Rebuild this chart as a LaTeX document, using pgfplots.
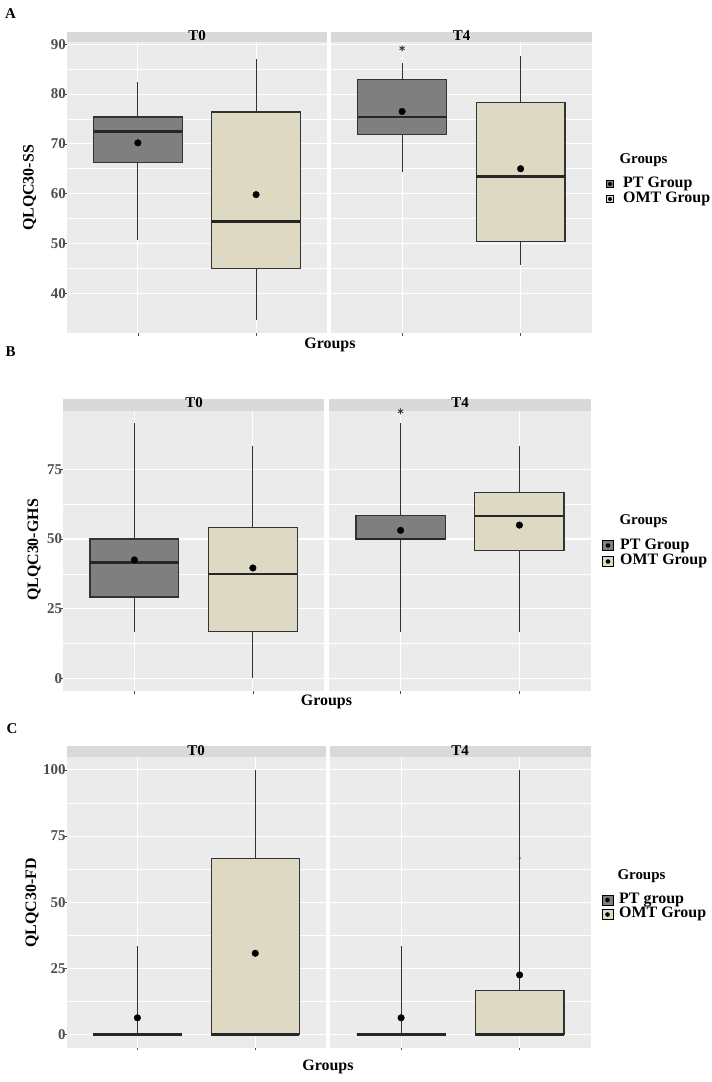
\documentclass[border=0pt]{standalone}
\usepackage{fontspec}
\setmainfont{Liberation Serif}
\usepackage{pgfplots}
\pgfplotsset{compat=1.18}
\usepgfplotslibrary{statistics}
\definecolor{panel}{HTML}{EBEBEB}
\definecolor{stripc}{HTML}{D9D9D9}
\definecolor{ptfill}{HTML}{7F7F7F}
\definecolor{omtfill}{HTML}{DDD9C3}
\definecolor{boxline}{HTML}{333333}
\definecolor{ticktext}{HTML}{4D4D4D}
\newcommand{\tf}{\fontsize{15}{15}\selectfont\bfseries}
\newcommand{\lf}{\fontsize{16}{16}\selectfont\bfseries}
\pgfplotsset{
 facet/.style={
  scale only axis, anchor=south west,
  xmin=0.4, xmax=2.6,
  axis background/.style={fill=panel},
  axis line style={draw=none},
  xtick={1,2}, xticklabels={},
  xmajorgrids, ymajorgrids, yminorgrids,
  minor y tick num=1,
  major grid style={white, line width=1.1bp},
  minor grid style={white, line width=0.6bp},
  tick align=outside, major tick length=2.5bp, minor tick length=0pt,
  tick pos=left,
  tick style={ticktext, line width=0.5bp},
  /pgf/number format/assume math mode=true,
  yticklabel style={font=\tf, text=ticktext, inner sep=0.5bp, xshift=2bp},
  clip=false,
  boxplot/draw direction=y,
  boxplot/every median/.style={line width=2.6bp, draw=black!85},
  boxplot/whisker extend=0,
  boxplot/box extend=0.75,
 },
 rightfacet/.style={facet, yticklabels={}, major y tick style={draw=none}, ytick style={draw=none}},
 pt/.style={draw=boxline, fill=ptfill, line width=1.1bp},
 omt/.style={draw=boxline, fill=omtfill, line width=1.1bp},
 meanpt/.style={only marks, mark=*, mark size=3.3bp, black},
 star/.style={only marks, mark=asterisk, mark size=3bp, black!80, line width=0.8bp},
}
\begin{document}
\begin{tikzpicture}
\useasboundingbox (0,0) rectangle (712bp,-1082bp);
% ---------- strips ----------
\fill[stripc] (67bp,-32bp) rectangle (327bp,-42.3bp);
\fill[stripc] (331bp,-32bp) rectangle (591.7bp,-42.3bp);
\fill[stripc] (63.3bp,-399bp) rectangle (324bp,-410.7bp);
\fill[stripc] (329.3bp,-399bp) rectangle (590.7bp,-410.7bp);
\fill[stripc] (66.7bp,-746bp) rectangle (326bp,-756.7bp);
\fill[stripc] (330bp,-746bp) rectangle (590.7bp,-756.7bp);
\node[font=\tf] at (197bp,-35.5bp) {T0};
\node[font=\tf] at (461.5bp,-35.5bp) {T4};
\node[font=\tf] at (194bp,-402.5bp) {T0};
\node[font=\tf] at (460bp,-402.5bp) {T4};
\node[font=\tf] at (196bp,-750.5bp) {T0};
\node[font=\tf] at (460bp,-750.5bp) {T4};
% ---------- panel letters ----------
\node[font=\tf] at (10.5bp,-14bp) {A};
\node[font=\tf] at (10.5bp,-352bp) {B};
\node[font=\tf] at (12bp,-729bp) {C};
% ---------- y labels ----------
\node[font=\lf, rotate=90] at (29.5bp,-188bp) {QLQC30-SS};
\node[font=\lf, rotate=90] at (34bp,-550bp) {QLQC30-GHS};
\node[font=\lf, rotate=90] at (32bp,-903bp) {QLQC30-FD};
% ---------- x labels ----------
\node[font=\lf] at (330bp,-344.5bp) {Groups};
\node[font=\lf] at (326.5bp,-702bp) {Groups};
\node[font=\lf] at (328bp,-1066.5bp) {Groups};

% ================= A =================
\begin{axis}[facet, at={(67bp,-333bp)}, width=260bp, height=290.7bp,
  ymin=32, ymax=90.4, ytick={40,50,60,70,80,90}]
\addplot[pt, boxplot prepared={draw position=1, lower whisker=50.7, lower quartile=66.2, median=72.5, upper quartile=75.4, upper whisker=82.5}] coordinates {};
\addplot[omt, boxplot prepared={draw position=2, lower whisker=34.7, lower quartile=45.0, median=54.4, upper quartile=76.4, upper whisker=87.0}] coordinates {};
\addplot[meanpt] coordinates {(1,70.2) (2,59.8)};
\end{axis}
\begin{axis}[rightfacet, at={(331bp,-333bp)}, width=260.7bp, height=290.7bp,
  ymin=32, ymax=90.4, ytick={40,50,60,70,80,90}]
\addplot[pt, boxplot prepared={draw position=1, lower whisker=64.3, lower quartile=71.9, median=75.4, upper quartile=82.9, upper whisker=86.2}] coordinates {};
\addplot[omt, boxplot prepared={draw position=2, lower whisker=45.7, lower quartile=50.3, median=63.5, upper quartile=78.3, upper whisker=87.7}] coordinates {};
\addplot[meanpt] coordinates {(1,76.5) (2,65.0)};
\addplot[star] coordinates {(1,89.2)};
\end{axis}

% ================= B =================
\begin{axis}[facet, at={(63.3bp,-691bp)}, width=260.7bp, height=280.3bp,
  ymin=-4.6, ymax=96.1, ytick={0,25,50,75}]
\addplot[pt, boxplot prepared={draw position=1, lower whisker=16.67, lower quartile=29.17, median=41.67, upper quartile=50, upper whisker=91.67}] coordinates {};
\addplot[omt, boxplot prepared={draw position=2, lower whisker=0, lower quartile=16.67, median=37.5, upper quartile=54, upper whisker=83.33}] coordinates {};
\addplot[meanpt] coordinates {(1,42.5) (2,39.6)};
\end{axis}
\begin{axis}[rightfacet, at={(329.3bp,-691bp)}, width=261.4bp, height=280.3bp,
  ymin=-4.6, ymax=96.1, ytick={0,25,50,75}]
\addplot[pt, boxplot prepared={draw position=1, lower whisker=16.67, lower quartile=50, median=50, upper quartile=58.33, upper whisker=91.67}] coordinates {};
\addplot[omt, boxplot prepared={draw position=2, lower whisker=16.67, lower quartile=45.8, median=58.33, upper quartile=66.67, upper whisker=83.33}] coordinates {};
\addplot[meanpt] coordinates {(1,53.1) (2,55.0)};
\addplot[star] coordinates {(1,95.9)};
\end{axis}

% ================= C =================
\begin{axis}[facet, at={(66.7bp,-1047.7bp)}, width=259.3bp, height=291bp,
  ymin=-5, ymax=105, ytick={0,25,50,75,100}]
\addplot[pt, boxplot prepared={draw position=1, lower whisker=0, lower quartile=0, median=0, upper quartile=0, upper whisker=33.33}] coordinates {};
\addplot[omt, boxplot prepared={draw position=2, lower whisker=0, lower quartile=0, median=0, upper quartile=66.67, upper whisker=100}] coordinates {};
\addplot[meanpt] coordinates {(1,6.3) (2,30.7)};
\end{axis}
\begin{axis}[rightfacet, at={(330bp,-1047.7bp)}, width=260.7bp, height=291bp,
  ymin=-5, ymax=105, ytick={0,25,50,75,100}]
\addplot[pt, boxplot prepared={draw position=1, lower whisker=0, lower quartile=0, median=0, upper quartile=0, upper whisker=33.33}] coordinates {};
\addplot[omt, boxplot prepared={draw position=2, lower whisker=0, lower quartile=0, median=0, upper quartile=16.67, upper whisker=100}] coordinates {};
\addplot[only marks, mark=*, mark size=0.8bp, black!80] coordinates {(2,66.67)};
\addplot[meanpt] coordinates {(1,6.3) (2,22.5)};
\end{axis}

% ---------- legends ----------
% A
\node[font=\tf, anchor=west] at (616bp,-160bp) {Groups};
\draw[fill=ptfill, draw=black, line width=0.6bp] (606.5bp,-180.5bp) rectangle (613.5bp,-187.5bp);
\fill[black] (610bp,-184bp) circle (2bp);
\draw[fill=omtfill, draw=black, line width=0.6bp] (606.5bp,-195.5bp) rectangle (613.5bp,-202.5bp);
\fill[black] (610bp,-199bp) circle (2bp);
\node[font=\lf, anchor=west, inner sep=0pt] at (623bp,-183.5bp) {PT Group};
\node[font=\lf, anchor=west, inner sep=0pt] at (623bp,-198.5bp) {OMT Group};
% B
\node[font=\tf, anchor=west] at (616bp,-521bp) {Groups};
\draw[fill=ptfill, draw=black, line width=0.6bp] (602.5bp,-540.5bp) rectangle (613.5bp,-550.5bp);
\fill[black] (608bp,-545.5bp) circle (2.3bp);
\draw[fill=omtfill, draw=black, line width=0.6bp] (602.5bp,-556.5bp) rectangle (613.5bp,-566.5bp);
\fill[black] (608bp,-561.5bp) circle (2.3bp);
\node[font=\lf, anchor=west, inner sep=0pt] at (620bp,-545.5bp) {PT Group};
\node[font=\lf, anchor=west, inner sep=0pt] at (620bp,-561bp) {OMT Group};
% C
\node[font=\tf, anchor=west] at (614bp,-876bp) {Groups};
\draw[fill=ptfill, draw=black, line width=0.6bp] (602bp,-895bp) rectangle (613bp,-905bp);
\fill[black] (607.5bp,-900bp) circle (2.3bp);
\draw[fill=omtfill, draw=black, line width=0.6bp] (602bp,-909.5bp) rectangle (613bp,-919.5bp);
\fill[black] (607.5bp,-914.5bp) circle (2.3bp);
\node[font=\lf, anchor=west, inner sep=0pt] at (619bp,-900bp) {PT group};
\node[font=\lf, anchor=west, inner sep=0pt] at (619bp,-914.3bp) {OMT Group};
\end{tikzpicture}
\end{document}
